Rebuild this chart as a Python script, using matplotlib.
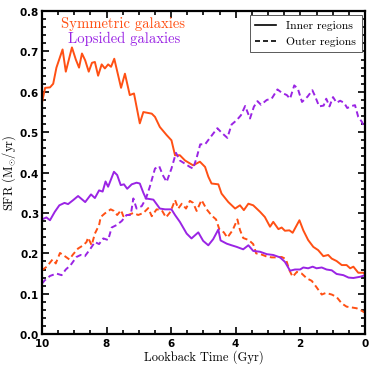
import matplotlib
matplotlib.use('Agg')
import matplotlib.pyplot as plt
from matplotlib.ticker import MultipleLocator
from matplotlib.lines import Line2D

# Symmetric galaxies, inner regions (solid orange)
sym_in_t = [10.0, 9.9, 9.75, 9.65, 9.55, 9.36, 9.26, 9.07, 8.95, 8.85, 8.76, 8.66, 8.55, 8.45,
            8.36, 8.26, 8.15, 8.05, 7.95, 7.86, 7.76, 7.55, 7.43, 7.28, 7.15, 6.97, 6.86, 6.6,
            6.5, 6.35, 6.14, 5.99, 5.88, 5.73, 5.57, 5.32, 5.11, 4.95, 4.85, 4.75, 4.54, 4.44,
            4.23, 4.02, 3.87, 3.75, 3.61, 3.46, 3.25, 3.1, 2.94, 2.84, 2.68, 2.58, 2.48, 2.34,
            2.24, 2.03, 1.91, 1.76, 1.6, 1.45, 1.29, 1.14, 1.03, 0.88, 0.72, 0.57, 0.46, 0.36,
            0.21, 0.05, 0.0]
sym_in = [0.572, 0.61, 0.611, 0.62, 0.66, 0.705, 0.65, 0.71, 0.68, 0.66, 0.695, 0.678, 0.65, 0.672,
          0.674, 0.64, 0.668, 0.658, 0.668, 0.662, 0.682, 0.61, 0.645, 0.592, 0.596, 0.522, 0.55, 0.546,
          0.538, 0.513, 0.493, 0.48, 0.443, 0.443, 0.43, 0.418, 0.427, 0.414, 0.39, 0.373, 0.371, 0.348,
          0.327, 0.311, 0.319, 0.307, 0.323, 0.319, 0.303, 0.29, 0.266, 0.278, 0.26, 0.264, 0.256, 0.257,
          0.251, 0.282, 0.257, 0.233, 0.216, 0.208, 0.193, 0.196, 0.187, 0.181, 0.171, 0.171, 0.163, 0.167,
          0.152, 0.152, 0.148]

# Symmetric galaxies, outer regions (dashed orange)
sym_out_t = [10.0, 9.85, 9.67, 9.57, 9.44, 9.29, 9.15, 9.03, 8.88, 8.72, 8.62, 8.57, 8.46, 8.36,
             8.23, 8.18, 8.05, 7.87, 7.77, 7.67, 7.55, 7.48, 7.33, 7.17, 7.02, 6.86, 6.71, 6.6,
             6.45, 6.29, 6.16, 6.02, 5.88, 5.78, 5.67, 5.54, 5.42, 5.32, 5.21, 5.06, 4.9, 4.75,
             4.61, 4.51, 4.37, 4.26, 4.1, 3.95, 3.87, 3.77, 3.6, 3.46, 3.37, 3.2, 3.04, 2.89,
             2.73, 2.58, 2.45, 2.34, 2.24, 2.11, 1.96, 1.8, 1.65, 1.5, 1.34, 1.21, 1.03, 0.88,
             0.72, 0.57, 0.41, 0.26, 0.13, 0.0]
sym_out = [0.158, 0.167, 0.185, 0.175, 0.201, 0.193, 0.185, 0.198, 0.212, 0.22, 0.228, 0.239, 0.22, 0.249,
           0.27, 0.29, 0.299, 0.309, 0.305, 0.295, 0.307, 0.292, 0.295, 0.3, 0.295, 0.3, 0.312, 0.292,
           0.309, 0.307, 0.289, 0.303, 0.332, 0.311, 0.323, 0.311, 0.33, 0.325, 0.305, 0.332, 0.309, 0.294,
           0.284, 0.26, 0.252, 0.239, 0.257, 0.284, 0.258, 0.238, 0.233, 0.223, 0.2, 0.197, 0.192, 0.19,
           0.19, 0.191, 0.186, 0.158, 0.142, 0.154, 0.15, 0.138, 0.132, 0.116, 0.098, 0.102, 0.098, 0.092,
           0.076, 0.068, 0.066, 0.064, 0.059, 0.053]

# Lopsided galaxies, inner regions (solid purple)
lop_in_t = [10.0, 9.86, 9.75, 9.6, 9.46, 9.3, 9.19, 9.03, 8.88, 8.66, 8.48, 8.36, 8.23, 8.12,
            8.03, 7.95, 7.77, 7.67, 7.56, 7.46, 7.36, 7.22, 7.07, 6.97, 6.86, 6.78, 6.55, 6.35,
            6.19, 5.99, 5.88, 5.73, 5.52, 5.37, 5.16, 5.01, 4.85, 4.7, 4.54, 4.47, 4.28, 4.13,
            3.97, 3.77, 3.61, 3.46, 3.25, 3.04, 2.84, 2.63, 2.48, 2.32, 2.17, 2.01, 1.91, 1.76,
            1.62, 1.5, 1.34, 1.19, 1.03, 0.88, 0.67, 0.51, 0.36, 0.15, 0.0]
lop_in = [0.284, 0.289, 0.282, 0.303, 0.319, 0.325, 0.322, 0.332, 0.342, 0.327, 0.346, 0.337, 0.356, 0.353,
          0.378, 0.365, 0.402, 0.394, 0.369, 0.371, 0.36, 0.371, 0.375, 0.373, 0.35, 0.336, 0.333, 0.311,
          0.309, 0.309, 0.295, 0.278, 0.249, 0.237, 0.252, 0.231, 0.22, 0.235, 0.259, 0.232, 0.224, 0.22,
          0.216, 0.21, 0.22, 0.206, 0.204, 0.198, 0.196, 0.19, 0.179, 0.157, 0.16, 0.16, 0.165, 0.163,
          0.167, 0.163, 0.165, 0.16, 0.158, 0.149, 0.146, 0.14, 0.139, 0.142, 0.146]

# Lopsided galaxies, outer regions (dashed purple)
lop_out_t = [10.0, 9.9, 9.75, 9.55, 9.39, 9.26, 9.11, 8.93, 8.8, 8.67, 8.51, 8.36, 8.23, 8.1,
             7.95, 7.84, 7.69, 7.53, 7.38, 7.25, 7.17, 7.07, 6.91, 6.78, 6.66, 6.5, 6.37, 6.26,
             6.14, 5.99, 5.85, 5.73, 5.57, 5.42, 5.32, 5.21, 5.1, 4.95, 4.8, 4.57, 4.44, 4.26,
             4.13, 3.97, 3.84, 3.71, 3.56, 3.44, 3.33, 3.22, 3.04, 2.89, 2.71, 2.58, 2.42, 2.32,
             2.19, 2.08, 1.95, 1.78, 1.63, 1.55, 1.42, 1.28, 1.2, 1.1, 0.99, 0.88, 0.77, 0.65,
             0.55, 0.41, 0.31, 0.21, 0.1, 0.0]
lop_out = [0.125, 0.134, 0.144, 0.15, 0.146, 0.16, 0.171, 0.191, 0.196, 0.193, 0.21, 0.228, 0.223, 0.237,
           0.233, 0.264, 0.27, 0.28, 0.295, 0.295, 0.336, 0.311, 0.317, 0.336, 0.365, 0.41, 0.416, 0.394,
           0.377, 0.41, 0.449, 0.43, 0.422, 0.414, 0.41, 0.437, 0.47, 0.47, 0.486, 0.51, 0.499, 0.486,
           0.519, 0.53, 0.542, 0.565, 0.534, 0.563, 0.577, 0.568, 0.58, 0.583, 0.606, 0.598, 0.592, 0.583,
           0.616, 0.608, 0.575, 0.588, 0.604, 0.59, 0.564, 0.566, 0.583, 0.564, 0.587, 0.573, 0.578, 0.573,
           0.56, 0.565, 0.567, 0.538, 0.526, 0.509]

ORANGE = '#FF5014'
PURPLE = '#9A24E4'

plt.rcParams['mathtext.fontset'] = 'cm'
plt.rcParams['axes.formatter.use_mathtext'] = True
SERIF = ['cmr10', 'DejaVu Serif']

fig = plt.figure(figsize=(3.74, 3.70), dpi=100)
ax = fig.add_axes([0.112, 0.097, 0.864, 0.873])

ax.plot(sym_in_t, sym_in, '-', color=ORANGE, lw=1.4)
ax.plot(sym_out_t, sym_out, '--', color=ORANGE, lw=1.4, dashes=(3, 1.8))
ax.plot(lop_in_t, lop_in, '-', color=PURPLE, lw=1.4)
ax.plot(lop_out_t, lop_out, '--', color=PURPLE, lw=1.4, dashes=(3, 1.8))

ax.set_xlim(10, 0)
ax.set_ylim(0, 0.8)
ax.xaxis.set_major_locator(MultipleLocator(2))
ax.xaxis.set_minor_locator(MultipleLocator(0.5))
ax.yaxis.set_major_locator(MultipleLocator(0.1))
ax.yaxis.set_minor_locator(MultipleLocator(0.02))
ax.tick_params(which='both', direction='in', top=True, right=True, width=1.2)
ax.tick_params(which='major', length=5, labelsize=7.5, pad=2)
ax.tick_params(which='minor', length=3)
for lab in ax.get_xticklabels() + ax.get_yticklabels():
    lab.set_fontweight('bold')
for sp in ax.spines.values():
    sp.set_linewidth(1.6)

ax.set_xlabel('Lookback Time (Gyr)', family=SERIF, fontsize=9, labelpad=1)
ax.set_ylabel(r'SFR (M$_{\odot}$/yr)', family=SERIF, fontsize=9, labelpad=1)

ax.text(9.42, 0.757, 'Symmetric galaxies', color=ORANGE, family=SERIF, fontsize=10.6)
ax.text(9.2, 0.72, 'Lopsided galaxies', color=PURPLE, family=SERIF, fontsize=10.6)

handles = [Line2D([], [], color='k', lw=1.2, ls='-'),
           Line2D([], [], color='k', lw=1.2, ls='--', dashes=(3, 1.8))]
leg = ax.legend(handles, ['Inner regions', 'Outer regions'], loc='upper right',
                prop={'family': SERIF, 'size': 8.4}, fancybox=False, framealpha=1,
                edgecolor='0.35', handlelength=1.8, handletextpad=0.8, borderpad=0.5,
                labelspacing=0.5, borderaxespad=0.3, bbox_to_anchor=(1.0, 1.0))
leg.get_frame().set_linewidth(0.7)

fig.savefig('out.png', dpi=100)
